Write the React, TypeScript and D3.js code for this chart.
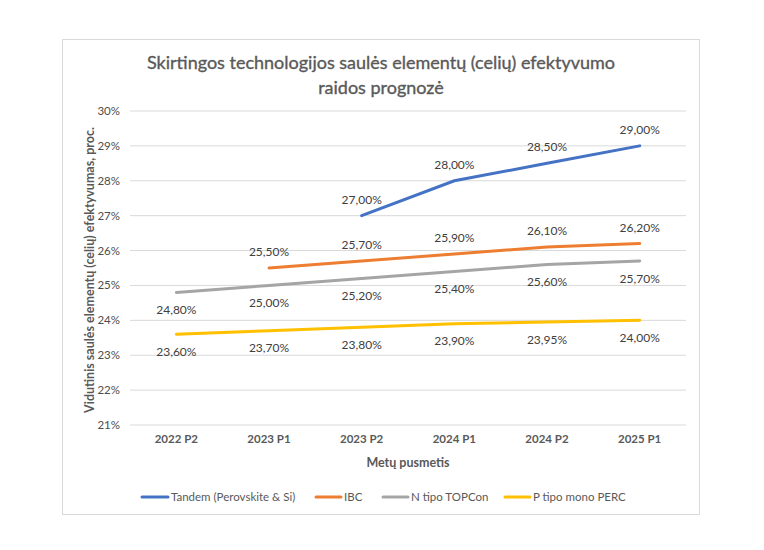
import React from "react";
import * as d3 from "d3";

const categories = ["2022 P2", "2023 P1", "2023 P2", "2024 P1", "2024 P2", "2025 P1"];
const tandem: (number | null)[] = [null, null, 27.0, 28.0, 28.5, 29.0];
const ibc: (number | null)[] = [null, 25.5, 25.7, 25.9, 26.1, 26.2];
const topcon: (number | null)[] = [24.8, 25.0, 25.2, 25.4, 25.6, 25.7];
const perc: (number | null)[] = [23.6, 23.7, 23.8, 23.9, 23.95, 24.0];
const yTicks = [21, 22, 23, 24, 25, 26, 27, 28, 29, 30];
const seriesNames = ["Tandem (Perovskite & Si)", "IBC", "N tipo TOPCon", "P tipo mono PERC"];

const series = [
  { name: seriesNames[0], values: tandem, color: "#4472C4", above: true },
  { name: seriesNames[1], values: ibc, color: "#ED7D31", above: true },
  { name: seriesNames[2], values: topcon, color: "#A5A5A5", above: false },
  { name: seriesNames[3], values: perc, color: "#FFC000", above: false },
];

const FONT = "Lato, 'Open Sans', sans-serif";
const W = 764;
const H = 550;

export default function App() {
  const plot = { left: 130, right: 686, top: 111, bottom: 425 };
  const x = d3.scaleBand<string>().domain(categories).range([plot.left, plot.right]);
  const y = d3.scaleLinear().domain([21, 30]).range([plot.bottom, plot.top]);
  const cx = (c: string) => (x(c) as number) + x.bandwidth() / 2;
  const fmt = (v: number) => v.toFixed(2).replace(".", ",") + "%";

  const line = d3
    .line<number | null>()
    .defined((d) => d !== null)
    .x((_, i) => cx(categories[i]))
    .y((d) => y(d as number));

  const legendItems = [
    { x: 142, w: 26 },
    { x: 316, w: 25 },
    { x: 383, w: 25 },
    { x: 505, w: 25 },
  ];

  return (
    <svg width={W} height={H} style={{ position: "absolute", left: 0, top: 0, fontFamily: FONT }}>
      <rect x={0} y={0} width={W} height={H} fill="#fff" />
      <rect x={62.5} y={39.5} width={637} height={475} fill="#fff" stroke="#d9d9d9" strokeWidth={1} />
      <g fill="#595959" stroke="#595959" strokeWidth={0.35}>
        <text x={381} y={69} textAnchor="middle" fontSize={18}>
          Skirtingos technologijos saulės elementų (celių) efektyvumo
        </text>
        <text x={381} y={94} textAnchor="middle" fontSize={18}>
          raidos prognozė
        </text>
      </g>
      {yTicks.map((t) => (
        <g key={t}>
          <line x1={plot.left} x2={plot.right} y1={y(t)} y2={y(t)} stroke="#d9d9d9" strokeWidth={1} />
          <text x={120} y={y(t) + 4} textAnchor="end" fontSize={11.5} fill="#4d4d4d">
            {t}%
          </text>
        </g>
      ))}
      {categories.map((c) => (
        <text key={c} x={cx(c)} y={443} textAnchor="middle" fontSize={11.5} fontWeight="bold" fill="#595959">
          {c}
        </text>
      ))}
      <text x={(plot.left + plot.right) / 2 - 0} y={467} textAnchor="middle" fontSize={12.5} fontWeight="bold" fill="#595959">
        Metų pusmetis
      </text>
      <text
        transform={`translate(94, ${(plot.top + plot.bottom) / 2 + 2}) rotate(-90)`}
        textAnchor="middle"
        fontSize={12.5}
        fontWeight="bold"
        fill="#595959"
      >
        Vidutinis saulės elementų (celių) efektyvumas, proc.
      </text>
      {series.map((s) => (
        <path key={s.name} d={line(s.values) || ""} fill="none" stroke={s.color} strokeWidth={3} strokeLinecap="round" />
      ))}
      {series.map((s) =>
        s.values.map((v, i) =>
          v === null ? null : (
            <text
              key={s.name + i}
              x={cx(categories[i])}
              y={y(v) + (s.above ? -12 : 21.5)}
              textAnchor="middle"
              fontSize={12}
              fill="#404040"
            >
              {fmt(v)}
            </text>
          )
        )
      )}
      {series.map((s, i) => (
        <g key={"lg" + i}>
          <line
            x1={legendItems[i].x}
            x2={legendItems[i].x + legendItems[i].w}
            y1={497}
            y2={497}
            stroke={s.color}
            strokeWidth={3}
            strokeLinecap="round"
          />
          <text x={legendItems[i].x + legendItems[i].w + 3} y={501} fontSize={11.5} fill="#595959">
            {s.name}
          </text>
        </g>
      ))}
    </svg>
  );
}
